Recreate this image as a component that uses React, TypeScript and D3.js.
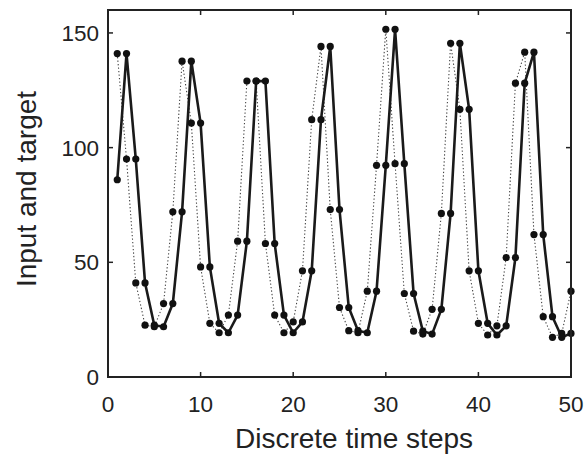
import React from "react";
import * as d3 from "d3";

const steps: number[] = Array.from({ length: 50 }, (_, i) => i + 1);
const inputValues: number[] = [
  141, 95, 41, 22.6, 21.9, 32, 72, 137.7, 110.7, 48,
  23.4, 19.3, 27, 59.2, 129, 129, 58.2, 27, 19.3, 24,
  46.3, 112.2, 144.1, 73, 30.3, 20.2, 19.3, 37.4, 92.3, 151.6,
  93, 36.4, 20, 18.7, 29.5, 71.3, 145.5, 116.7, 46.3, 23.4,
  18.3, 22.3, 52.1, 128.1, 141.6, 62.1, 26.3, 17.3, 19, 37.4,
];
const targetValues: number[] = [
  86, 141, 95, 41, 22.6, 21.9, 32, 72, 137.7, 110.7,
  48, 23.4, 19.3, 27, 59.2, 129, 129, 58.2, 27, 19.3,
  24, 46.3, 112.2, 144.1, 73, 30.3, 20.2, 19.3, 37.4, 92.3,
  151.6, 93, 36.4, 20, 18.7, 29.5, 71.3, 145.5, 116.7, 46.3,
  23.4, 18.3, 22.3, 52.1, 128.1, 141.6, 62.1, 26.3, 17.3, 19,
];
const xTicks: number[] = [0, 10, 20, 30, 40, 50];
const yTicks: number[] = [0, 50, 100, 150];
const xLabel = "Discrete time steps";
const yLabel = "Input and target";

export default function App() {
  const W = 586, H = 454;
  const left = 108, right = 571, top = 10, bottom = 377;
  const x = d3.scaleLinear().domain([0, 50]).range([left, right]);
  const y = d3.scaleLinear().domain([0, 160]).range([bottom, top]);
  const line = d3.line<[number, number]>().x(d => x(d[0])).y(d => y(d[1]));
  const inPts: [number, number][] = steps.map((s, i) => [s, inputValues[i]]);
  const tgPts: [number, number][] = steps.map((s, i) => [s, targetValues[i]]);
  const font = "'Liberation Sans', Arial, Helvetica, sans-serif";
  const tl = 5;
  return (
    <svg width={W} height={H} style={{ position: "absolute", left: 0, top: 0, background: "#fff" }}>
      <path d={line(inPts) || ""} fill="none" stroke="#444" strokeWidth={1.1} strokeDasharray="1.3,2.2" />
      <path d={line(tgPts) || ""} fill="none" stroke="#1a1a1a" strokeWidth={2.6} strokeLinejoin="round" />
      {inPts.map((p, i) => (
        <circle key={"a" + i} cx={x(p[0])} cy={y(p[1])} r={3.6} fill="#111" />
      ))}
      {tgPts.map((p, i) => (
        <circle key={"b" + i} cx={x(p[0])} cy={y(p[1])} r={3.6} fill="#111" />
      ))}
      <rect x={left} y={top} width={right - left} height={bottom - top} fill="none" stroke="#222" strokeWidth={2} />
      {xTicks.map(t => (
        <g key={"xt" + t}>
          <line x1={x(t)} x2={x(t)} y1={bottom} y2={bottom - tl} stroke="#222" strokeWidth={1.5} />
          <line x1={x(t)} x2={x(t)} y1={top} y2={top + tl} stroke="#222" strokeWidth={1.5} />
          <text x={x(t)} y={bottom + 35} textAnchor="middle" fontFamily={font} fontSize={22.5} fill="#222">{t}</text>
        </g>
      ))}
      {yTicks.map(t => (
        <g key={"yt" + t}>
          <line x1={left} x2={left + tl} y1={y(t)} y2={y(t)} stroke="#222" strokeWidth={1.5} />
          <line x1={right} x2={right - tl} y1={y(t)} y2={y(t)} stroke="#222" strokeWidth={1.5} />
          <text x={left - 9} y={y(t) + 8} textAnchor="end" fontFamily={font} fontSize={22.5} fill="#222">{t}</text>
        </g>
      ))}
      <text x={354} y={448} textAnchor="middle" fontFamily={font} fontSize={28} fill="#222">{xLabel}</text>
      <text transform={`translate(36,189) rotate(-90)`} textAnchor="middle" fontFamily={font} fontSize={28} fill="#222">{yLabel}</text>
    </svg>
  );
}
